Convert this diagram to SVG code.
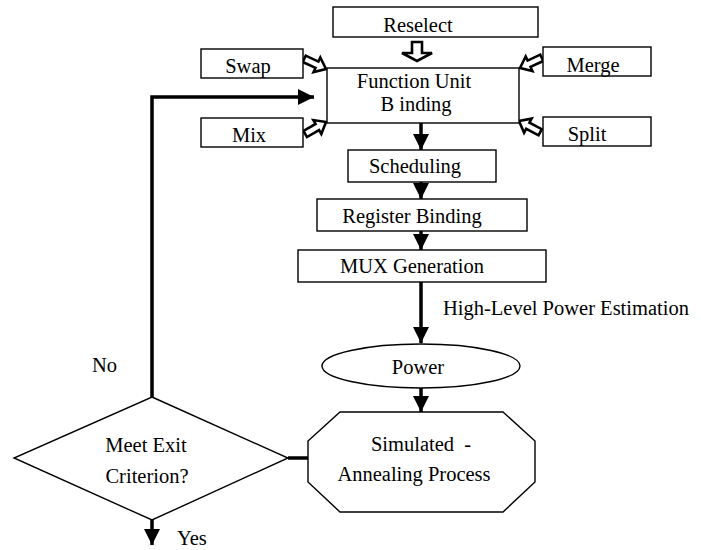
<svg xmlns="http://www.w3.org/2000/svg" width="701" height="550" viewBox="0 0 701 550">
<style>
.box{fill:#fff;stroke:#000;stroke-width:1.4}
.t{font-family:"Liberation Serif","Times New Roman",serif;font-size:20.5px;fill:#000;text-anchor:middle}
.tl{font-family:"Liberation Serif","Times New Roman",serif;font-size:20.5px;fill:#000}
.c{fill:none;stroke:#000;stroke-width:3.5}
.hol{fill:#fff;stroke:#000;stroke-width:2.6;stroke-linejoin:miter}
</style>
<defs>
<marker id="ah" markerUnits="userSpaceOnUse" markerWidth="16" markerHeight="16" viewBox="0 0 14 14" refX="14" refY="7" orient="auto">
<path d="M0,0 L14,7 L0,14 Z" fill="#000"/>
</marker>
<polygon id="harrow" points="0,0 -10,-8 -10,-3.5 -24,-3.5 -24,3.5 -10,3.5 -10,8"/>
</defs>
<rect width="701" height="550" fill="#fff"/>

<g id="connectors">
<polyline class="c" points="152,397 152,97 314,97" marker-end="url(#ah)"/>
<line class="c" x1="421" y1="123" x2="421" y2="150" marker-end="url(#ah)"/>
<line class="c" x1="421" y1="182" x2="421" y2="199" marker-end="url(#ah)"/>
<line class="c" x1="421" y1="231" x2="421" y2="250" marker-end="url(#ah)"/>
<line class="c" x1="421" y1="282" x2="421" y2="343" marker-end="url(#ah)"/>
<line class="c" x1="421" y1="388" x2="421" y2="412" marker-end="url(#ah)"/>
<line class="c" x1="288" y1="458" x2="308" y2="458"/>
<line class="c" x1="152" y1="520" x2="152" y2="545" marker-end="url(#ah)"/>
<polygon class="hol" points="412,42 422,42 422,53 432,53 417,61 402,53 412,53"/>
<use href="#harrow" class="hol" transform="translate(326,69) rotate(25)"/>
<use href="#harrow" class="hol" transform="translate(326,122) rotate(-30)"/>
<use href="#harrow" class="hol" transform="translate(520,68) rotate(155)"/>
<use href="#harrow" class="hol" transform="translate(519,121) rotate(-152)"/>
<text class="tl" x="443" y="315">High-Level Power Estimation</text>
<text class="tl" x="92" y="372">No</text>
<text class="tl" x="177" y="545">Yes</text>
</g>

<g id="reselect">
<rect class="box" x="333" y="7" width="205" height="30"/>
<text class="t" x="418" y="32">Reselect</text>
</g>
<g id="fu-binding">
<rect class="box" x="327" y="68" width="192" height="55"/>
<text class="t" x="414" y="88">Function Unit</text>
<text class="t" x="416" y="111">B inding</text>
</g>
<g id="swap">
<rect class="box" x="201" y="49" width="102" height="29"/>
<text class="t" x="248" y="73">Swap</text>
</g>
<g id="mix">
<rect class="box" x="201" y="118" width="102" height="29"/>
<text class="t" x="249" y="142">Mix</text>
</g>
<g id="merge">
<rect class="box" x="543" y="47" width="108" height="29"/>
<text class="t" x="593" y="72">Merge</text>
</g>
<g id="split">
<rect class="box" x="543" y="117" width="108" height="29"/>
<text class="t" x="587" y="141">Split</text>
</g>
<g id="scheduling">
<rect class="box" x="348" y="150" width="148" height="32"/>
<text class="t" x="415" y="173">Scheduling</text>
</g>
<g id="register-binding">
<rect class="box" x="317" y="199" width="210" height="32"/>
<text class="t" x="412" y="223">Register Binding</text>
</g>
<g id="mux-generation">
<rect class="box" x="298" y="250" width="248" height="32"/>
<text class="t" x="412" y="273">MUX Generation</text>
</g>
<g id="power">
<ellipse class="box" cx="421" cy="366" rx="99" ry="22"/>
<text class="t" x="418" y="374">Power</text>
</g>
<g id="annealing">
<polygon class="box" points="340,412 503,412 535,441 535,482 503,512 340,512 308,482 308,441"/>
<text class="t" x="421" y="451" xml:space="preserve">Simulated  -</text>
<text class="t" x="414" y="481">Annealing Process</text>
</g>
<g id="exit-criterion">
<polygon class="box" points="152,397 288,458 152,520 14,458"/>
<text class="t" x="146" y="452">Meet Exit</text>
<text class="t" x="147" y="483">Criterion?</text>
</g>
</svg>
